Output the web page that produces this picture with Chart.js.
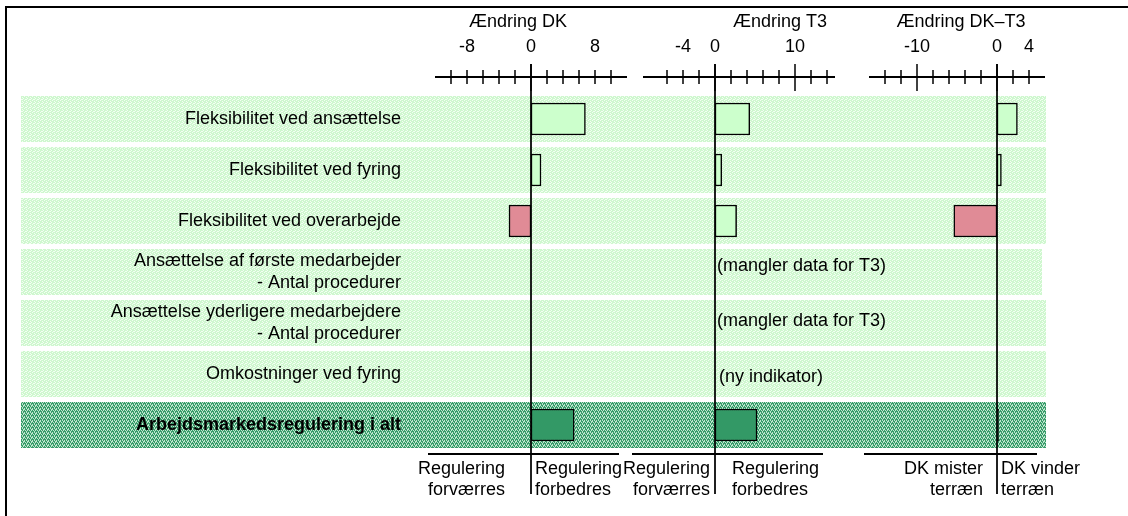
<!DOCTYPE html>
<html><head><meta charset="utf-8">
<script src="https://cdn.jsdelivr.net/npm/chart.js@4.4.1/dist/chart.umd.min.js"></script>
<style>
html,body{margin:0;padding:0;background:#fff;}
#wrap{position:relative;width:1128px;height:516px;overflow:hidden;background:#fff;}
#wrap canvas{position:absolute;left:0;top:0;}
.frameTop{position:absolute;left:5px;right:0;top:6px;height:2px;background:#000;}
.frameLeft{position:absolute;left:5px;top:6px;bottom:0;width:2px;background:#000;}
</style></head><body>
<div id="wrap">
<canvas id="c1" width="1128" height="516"></canvas>
<canvas id="c2" width="1128" height="516"></canvas>
<canvas id="c3" width="1128" height="516"></canvas>
<div class="frameTop"></div><div class="frameLeft"></div>
</div>
<script>
// ---------- data ----------
const categories = [
  'Fleksibilitet ved ansættelse',
  'Fleksibilitet ved fyring',
  'Fleksibilitet ved overarbejde',
  ['Ansættelse af første medarbejder', '- Antal procedurer'],
  ['Ansættelse yderligere medarbejdere', '- Antal procedurer'],
  'Omkostninger ved fyring',
  'Arbejdsmarkedsregulering i alt'
];
const changeDK   = [6.8, 1.25, -2.75, null, null, null, 5.4];
const changeT3   = [4.35, 0.85, 2.7, null, null, null, 5.25];
const changeDiff = [2.55, 0.55, -5.4, null, null, null, 0.2];
const t3Notes = ['', '', '', '(mangler data for T3)', '(mangler data for T3)', '(ny indikator)', ''];
const panelTitles = ['Ændring DK', 'Ændring T3', 'Ændring DK–T3'];
const ticksDK   = [-10, -8, -6, -4, -2, 0, 2, 4, 6, 8, 10];
const ticksT3   = [-6, -4, -2, 0, 2, 4, 6, 8, 10, 12, 14];
const ticksDiff = [-14, -12, -10, -8, -6, -4, -2, 0, 2, 4];
const labelsDK   = [-8, 0, 8];
const labelsT3   = [-4, 0, 10];
const labelsDiff = [-10, 0, 4];
const majorDK = [0];
const majorT3 = [0, 10];
const majorDiff = [-10, 0];
const bottomLabelsDK   = [['Regulering', 'forværres'], ['Regulering', 'forbedres']];
const bottomLabelsT3   = [['Regulering', 'forværres'], ['Regulering', 'forbedres']];
const bottomLabelsDiff = [['DK mister', 'terræn'], ['DK vinder', 'terræn']];

// ---------- layout / style ----------
const W = 1128, H = 516;
const AREA_TOP = 93.5, AREA_BOTTOM = 450.5;
const AXIS_Y = 77;
const FONT = "'Liberation Sans', Arial, sans-serif";
Chart.defaults.font.family = FONT;
Chart.defaults.color = '#000';

const COL_LIGHT = '#ccffcc', COL_RED = '#e08b96', COL_DARK = '#339966';

function makePattern(ctx, base, dot, cells) {
  const c = document.createElement('canvas');
  c.width = 4; c.height = 4;
  const g = c.getContext('2d');
  g.fillStyle = base; g.fillRect(0, 0, 4, 4);
  g.fillStyle = dot;
  cells.forEach(([a, b]) => g.fillRect(a, b, 1, 1));
  return ctx.createPattern(c, 'repeat');
}

const deco = {
  id: 'deco',
  beforeDraw(chart, args, o) {
    if (!o.rows) return;
    const ctx = chart.ctx, y = chart.scales.y;
    const light = makePattern(ctx, '#cff7cf', '#f2fff2', [[0,0],[2,1],[1,3],[3,2],[2,3]]);
    const dark = makePattern(ctx, '#389b6a', '#bce6cc', [[0,0],[2,0],[1,2],[3,2],[0,1],[2,3],[3,1]]);
    ctx.save();
    categories.forEach((c, i) => {
      const cy = y.getPixelForValue(i);
      ctx.fillStyle = i === categories.length - 1 ? dark : light;
      const right = i === 3 ? 1042 : 1046;
      ctx.fillRect(21, cy - 23, right - 21, 46);
    });
    ctx.restore();
  },
  afterDraw(chart, args, o) {
    const ctx = chart.ctx, x = chart.scales.x, y = chart.scales.y;
    const x0 = x.getPixelForValue(0);
    ctx.save();
    ctx.strokeStyle = '#000';
    ctx.lineWidth = 2;
    ctx.beginPath(); ctx.moveTo(x.left, AXIS_Y); ctx.lineTo(x.right, AXIS_Y); ctx.stroke();
    ctx.lineWidth = 1.5;
    x.ticks.forEach(t => {
      const px = x.getPixelForValue(t.value);
      const major = o.major.includes(t.value);
      ctx.beginPath();
      ctx.moveTo(px, major ? 64 : 70);
      ctx.lineTo(px, major ? 91 : 84);
      ctx.stroke();
    });
    ctx.lineWidth = 1.75;
    ctx.beginPath(); ctx.moveTo(x0, 64); ctx.lineTo(x0, 494); ctx.stroke();
    ctx.lineWidth = 2;
    ctx.beginPath(); ctx.moveTo(o.bottomLine[0], 454); ctx.lineTo(o.bottomLine[1], 454); ctx.stroke();
    ctx.fillStyle = '#000';
    ctx.font = '18px ' + FONT;
    ctx.textBaseline = 'middle';
    ctx.textAlign = 'center';
    ctx.fillText(o.title, o.titleX, 22);
    ctx.textAlign = 'right';
    o.bottom[0].forEach((t, k) => ctx.fillText(t, x0 - o.bottomGap[0], 469 + k * 21));
    ctx.textAlign = 'left';
    o.bottom[1].forEach((t, k) => ctx.fillText(t, x0 + o.bottomGap[1], 469 + k * 21));
    if (o.notes) {
      const dy = [0, 0, 0, -6, -2, 3, 0];
      const dx = [0, 0, 0, 0, 0, 2, 0];
      o.notes.forEach((t, i) => {
        if (!t) return;
        ctx.fillText(t, x0 + 2 + dx[i], y.getPixelForValue(i) + dy[i]);
      });
    }
    ctx.restore();
  }
};

function barColor(ctx) {
  const i = ctx.dataIndex, v = ctx.raw;
  if (i === categories.length - 1) return COL_DARK;
  return v < 0 ? COL_RED : COL_LIGHT;
}

function makeChart(id, cfg) {
  const first = id === 'c1';
  return new Chart(document.getElementById(id), {
    type: 'bar',
    data: {
      labels: categories,
      datasets: [{
        data: cfg.values,
        backgroundColor: barColor,
        borderColor: '#000',
        borderWidth: 1.5,
        borderSkipped: false,
        barThickness: 32
      }]
    },
    plugins: [deco],
    options: {
      indexAxis: 'y',
      responsive: false,
      animation: false,
      devicePixelRatio: 1,
      layout: { padding: { left: cfg.left, right: W - cfg.right, top: 0, bottom: H - AREA_BOTTOM } },
      plugins: {
        legend: { display: false },
        tooltip: { enabled: false },
        deco: {
          rows: first,
          major: cfg.major,
          title: cfg.title,
          titleX: cfg.titleX,
          bottomLine: cfg.bottomLine,
          bottom: cfg.bottom,
          bottomGap: cfg.bottomGap,
          notes: cfg.notes || null
        }
      },
      scales: {
        x: {
          type: 'linear',
          position: 'top',
          min: cfg.min,
          max: cfg.max,
          afterBuildTicks: s => { s.ticks = cfg.ticks.map(v => ({ value: v })); },
          afterFit: s => { s.height = AREA_TOP; s.paddingLeft = 0; s.paddingRight = 0; },
          grid: { display: false, drawTicks: false },
          border: { display: false },
          ticks: {
            autoSkip: false, maxRotation: 0, minRotation: 0,
            padding: 36,
            color: '#000',
            font: { size: 18, family: FONT },
            callback: v => cfg.labels.includes(v) ? String(v) : ''
          }
        },
        y: {
          type: 'category',
          display: first,
          offset: true,
          grid: { display: false, drawTicks: false },
          border: { display: false },
          afterFit: s => { if (first) s.width = cfg.left0; s.paddingTop = 0; s.paddingBottom = 0; },
          ticks: {
            autoSkip: false,
            padding: 34,
            color: '#000',
            font: c => ({ size: 18, family: FONT, weight: c.index === categories.length - 1 ? 'bold' : 'normal' })
          }
        }
      }
    }
  });
}

makeChart('c1', {
  values: changeDK, left: 0, left0: 435, right: 627, min: -12, max: 12,
  ticks: ticksDK, labels: labelsDK, major: majorDK,
  title: panelTitles[0], titleX: 518,
  bottomLine: [428, 619], bottom: bottomLabelsDK, bottomGap: [26, 4]
});
makeChart('c2', {
  values: changeT3, left: 643, right: 835, min: -9, max: 15,
  ticks: ticksT3, labels: labelsT3, major: majorT3,
  title: panelTitles[1], titleX: 780,
  bottomLine: [632, 823], bottom: bottomLabelsT3, bottomGap: [5, 17],
  notes: t3Notes
});
makeChart('c3', {
  values: changeDiff, left: 869, right: 1045, min: -16, max: 6,
  ticks: ticksDiff, labels: labelsDiff, major: majorDiff,
  title: panelTitles[2], titleX: 961,
  bottomLine: [864, 1037], bottom: bottomLabelsDiff, bottomGap: [14, 4]
});
</script>
</body></html>
